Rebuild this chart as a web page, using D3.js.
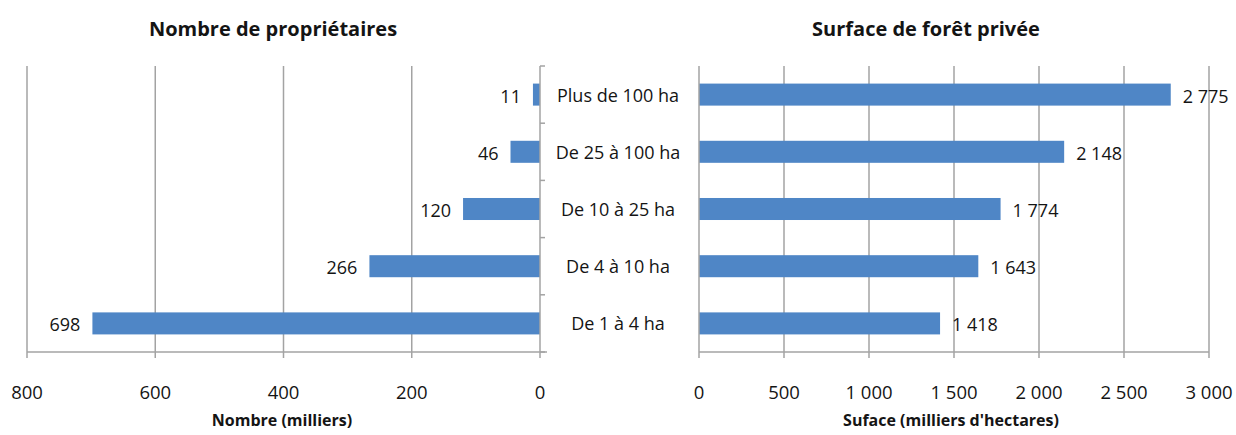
<!DOCTYPE html>
<html>
<head>
<meta charset="utf-8">
<script src="https://cdn.jsdelivr.net/npm/d3@7"></script>
<style>
  html, body { margin: 0; padding: 0; background: #fff; }
  svg { display: block; }
  text { font-family: "Open Sans", "Noto Sans", sans-serif; fill: #141414; }
</style>
</head>
<body>
<svg id="chart" width="1236" height="435"></svg>
<script>
// Size classes of private forest holdings, largest first (top to bottom)
const categories = ["Plus de 100 ha", "De 25 à 100 ha", "De 10 à 25 ha", "De 4 à 10 ha", "De 1 à 4 ha"];
// Number of owners (thousands)
const owners = [11, 46, 120, 266, 698];
// Private forest area (thousands of hectares)
const surface = [2775, 2148, 1774, 1643, 1418];
const ownerTicks = [800, 600, 400, 200, 0];
const surfaceTicks = [0, 500, 1000, 1500, 2000, 2500, 3000];

const fr = d3.formatLocale({ decimal: ",", thousands: "\u00a0", grouping: [3], currency: ["", " €"] });
const fmt = fr.format(",d");

const svg = d3.select("#chart");
const gridColor = "#a3a3a3";
const barColor = "#4f86c6";
const plotTop = 66, plotBottom = 352;
const tickSize = 18.5, valSize = 18, catSize = 18;

const y = d3.scaleBand().domain(categories).range([plotTop, plotBottom])
  .paddingInner(0.615).paddingOuter(0.3075);

// ---- Left panel: number of owners, drawn right to left ----
const xL = d3.scaleLinear().domain([0, 800]).range([540, 27]);
const left = svg.append("g");

left.selectAll("line.grid").data(ownerTicks.filter(d => d !== 0)).join("line")
  .attr("class", "grid")
  .attr("x1", d => xL(d)).attr("x2", d => xL(d))
  .attr("y1", plotTop).attr("y2", plotBottom + 6)
  .attr("stroke", gridColor).attr("stroke-width", 1.5);

left.selectAll("rect").data(categories).join("rect")
  .attr("x", (d, i) => xL(owners[i]))
  .attr("width", (d, i) => xL(0) - xL(owners[i]))
  .attr("y", d => y(d)).attr("height", y.bandwidth())
  .attr("fill", barColor);

// bottom axis line and ticks
left.append("line")
  .attr("x1", xL(800)).attr("x2", xL(0) + 7)
  .attr("y1", plotBottom).attr("y2", plotBottom)
  .attr("stroke", gridColor).attr("stroke-width", 1.5);
left.append("line")
  .attr("x1", xL(0)).attr("x2", xL(0))
  .attr("y1", plotTop).attr("y2", plotBottom + 6)
  .attr("stroke", gridColor).attr("stroke-width", 1.5);
// category boundary ticks on the vertical axis
const bounds = d3.range(categories.length + 1).map(i => plotTop + i * y.step());
left.selectAll("line.ytick").data(bounds).join("line")
  .attr("class", "ytick")
  .attr("x1", xL(0)).attr("x2", xL(0) + 5)
  .attr("y1", d => d).attr("y2", d => d)
  .attr("stroke", gridColor).attr("stroke-width", 1.5);

left.selectAll("text.tick").data(ownerTicks).join("text")
  .attr("class", "tick")
  .attr("x", d => xL(d)).attr("y", 391)
  .attr("text-anchor", "middle").attr("dominant-baseline", "central")
  .attr("font-size", tickSize).text(d => fmt(d));

left.selectAll("text.val").data(categories).join("text")
  .attr("class", "val")
  .attr("x", (d, i) => xL(owners[i]) - 12)
  .attr("y", d => y(d) + y.bandwidth() / 2 + 1)
  .attr("text-anchor", "end").attr("dominant-baseline", "central")
  .attr("font-size", valSize).text((d, i) => fmt(owners[i]));

svg.append("text").attr("x", 273).attr("y", 28)
  .attr("text-anchor", "middle").attr("dominant-baseline", "central")
  .attr("font-size", 20).attr("font-weight", "bold")
  .text("Nombre de propriétaires");
svg.append("text").attr("x", 282).attr("y", 420)
  .attr("text-anchor", "middle").attr("dominant-baseline", "central")
  .attr("font-size", 16).attr("font-weight", "bold")
  .text("Nombre (milliers)");

// ---- Category labels between the panels ----
svg.selectAll("text.cat").data(categories).join("text")
  .attr("class", "cat")
  .attr("x", 618).attr("y", d => y(d) + y.bandwidth() / 2)
  .attr("text-anchor", "middle").attr("dominant-baseline", "central")
  .attr("font-size", catSize).text(d => d);

// ---- Right panel: forest area ----
const xR = d3.scaleLinear().domain([0, 3000]).range([699, 1209]);
const right = svg.append("g");

right.selectAll("line.grid").data(surfaceTicks.filter(d => d !== 0)).join("line")
  .attr("class", "grid")
  .attr("x1", d => xR(d)).attr("x2", d => xR(d))
  .attr("y1", plotTop).attr("y2", plotBottom + 6)
  .attr("stroke", gridColor).attr("stroke-width", 1.5);

right.selectAll("rect").data(categories).join("rect")
  .attr("x", xR(0))
  .attr("width", (d, i) => xR(surface[i]) - xR(0))
  .attr("y", d => y(d)).attr("height", y.bandwidth())
  .attr("fill", barColor);

right.append("line")
  .attr("x1", xR(0)).attr("x2", xR(3000))
  .attr("y1", plotBottom).attr("y2", plotBottom)
  .attr("stroke", gridColor).attr("stroke-width", 1.5);
right.append("line")
  .attr("x1", xR(0)).attr("x2", xR(0))
  .attr("y1", plotTop).attr("y2", plotBottom + 6)
  .attr("stroke", gridColor).attr("stroke-width", 1.5);

right.selectAll("text.tick").data(surfaceTicks).join("text")
  .attr("class", "tick")
  .attr("x", d => xR(d)).attr("y", 391)
  .attr("text-anchor", "middle").attr("dominant-baseline", "central")
  .attr("font-size", tickSize).text(d => fmt(d));

right.selectAll("text.val").data(categories).join("text")
  .attr("class", "val")
  .attr("x", (d, i) => xR(surface[i]) + 12)
  .attr("y", d => y(d) + y.bandwidth() / 2 + 1)
  .attr("text-anchor", "start").attr("dominant-baseline", "central")
  .attr("font-size", valSize).text((d, i) => fmt(surface[i]));

svg.append("text").attr("x", 926).attr("y", 28)
  .attr("text-anchor", "middle").attr("dominant-baseline", "central")
  .attr("font-size", 20).attr("font-weight", "bold")
  .text("Surface de forêt privée");
svg.append("text").attr("x", 951).attr("y", 420)
  .attr("text-anchor", "middle").attr("dominant-baseline", "central")
  .attr("font-size", 16).attr("font-weight", "bold")
  .text("Suface (milliers d'hectares)");
</script>
</body>
</html>
